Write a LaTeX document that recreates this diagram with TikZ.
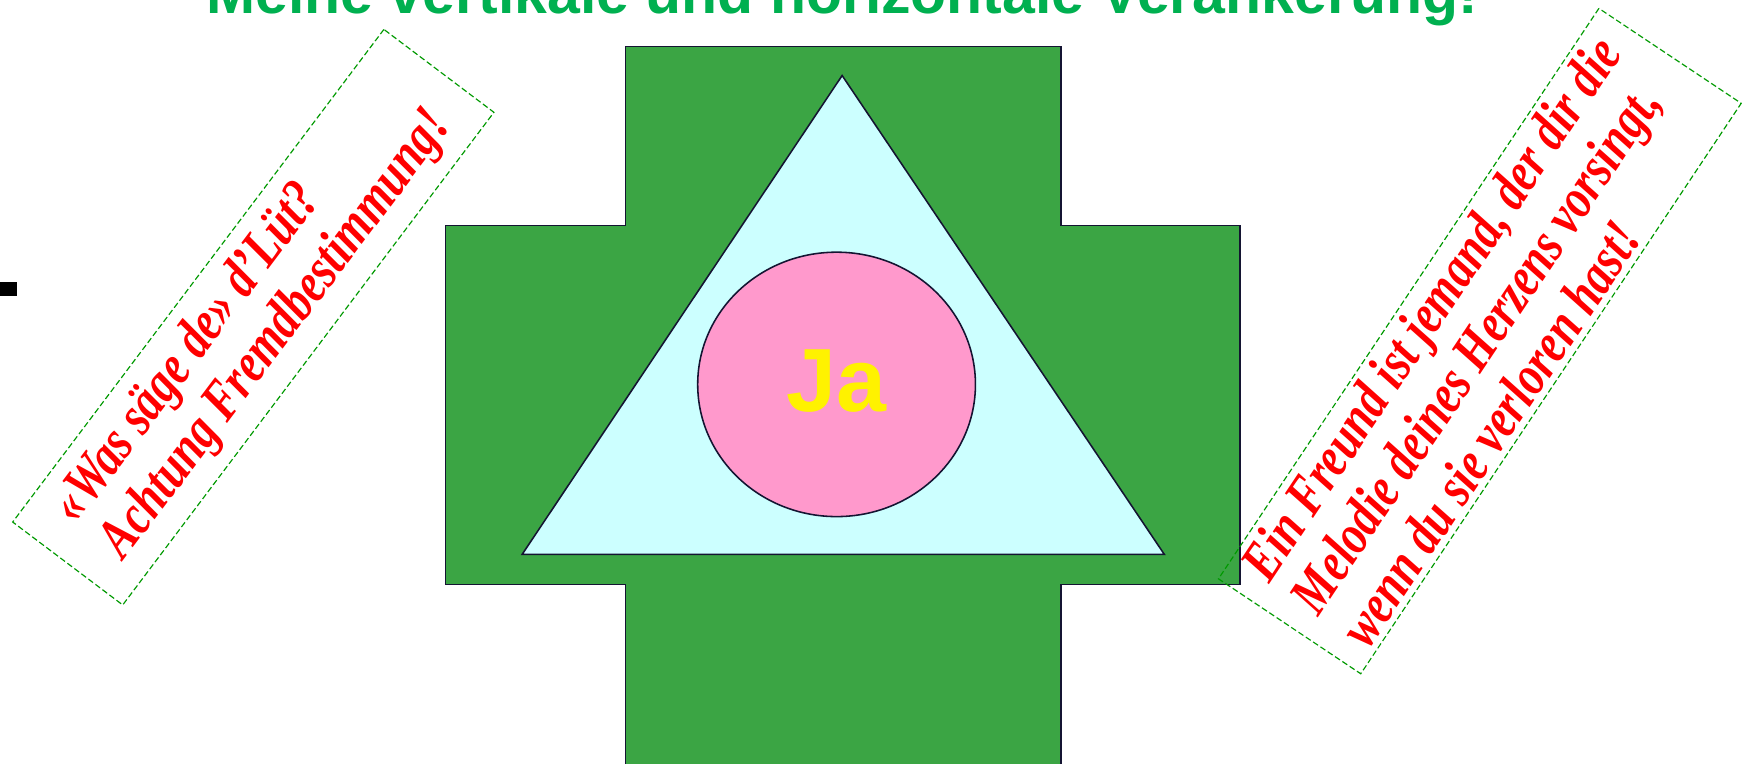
\documentclass[tikz,border=0pt]{standalone}
\usepackage{fontspec}
\setmainfont{Liberation Serif}
\setsansfont{Liberation Sans}
\usetikzlibrary{shapes.geometric}

\definecolor{crossgreen}{RGB}{59,165,68}
\definecolor{titlegreen}{RGB}{0,176,80}
\definecolor{palecyan}{RGB}{204,255,255}
\definecolor{rosa}{RGB}{255,153,204}
\definecolor{outline}{RGB}{20,20,50}
\definecolor{dashgreen}{RGB}{0,153,0}

\begin{document}
\begin{tikzpicture}[
  outlined/.style={draw=outline, line width=0.8pt},
  notebox/.style={draw=dashgreen, dash pattern=on 3pt off 1.5pt, line width=0.6pt, align=left,
    xscale=0.8, transform shape, inner sep=0pt, text=red,
    font=\fontsize{29}{30.5}\selectfont\bfseries\itshape},
  heading/.style={text=titlegreen, font=\sffamily\bfseries\fontsize{30.2}{34}\selectfont}
]
\useasboundingbox (0,0) rectangle (31.36,13.74);
% cross
\filldraw[outlined, fill=crossgreen] (11.26,-0.5) -- (11.26,3.22) -- (8.02,3.22) -- (8.02,9.68)
  -- (11.26,9.68) -- (11.26,12.9) -- (19.1,12.9) -- (19.1,9.68) -- (22.32,9.68) -- (22.32,3.22)
  -- (19.1,3.22) -- (19.1,-0.5) -- cycle;
% triangle and circle
\filldraw[outlined, fill=palecyan] (15.16,12.38) -- (20.96,3.76) -- (9.4,3.76) -- cycle;
\node[outlined, ellipse, fill=rosa, minimum width=5cm, minimum height=4.76cm, inner sep=0pt,
  text=yellow, font=\sffamily\bfseries\fontsize{46}{50}\selectfont] (ja) at (15.06,6.82)
  {\raisebox{3.5pt}{Ja}\hspace{5.5pt}};

\node[heading, anchor=base] (titel) at (15.16,13.5) {Meine vertikale und horizontale Verankerung!};

% rotated notes
\node[rotate=53, notebox, minimum width=13.88cm, minimum height=2.48cm] (links) at (4.56,8.03)
  {«Was säge de» d’Lüt?\\Achtung Fremdbestimmung!};
\node[rotate=56.3, notebox, minimum width=15.43cm, minimum height=3.08cm] (rechts) at (26.64,7.6)
  {Ein Freund ist jemand, der dir die\\Melodie deines Herzens vorsingt,\\wenn du sie verloren hast!};

\fill (0,8.42) rectangle (0.3,8.66);
\end{tikzpicture}
\end{document}
